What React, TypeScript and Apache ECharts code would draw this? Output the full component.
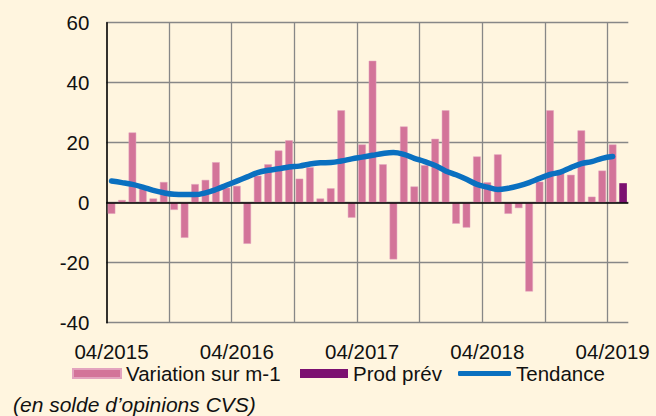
import React, { useEffect, useRef } from "react";
import * as echarts from "echarts";

const months: string[] = [
  "04/2015", "05/2015", "06/2015", "07/2015", "08/2015", "09/2015", "10/2015", "11/2015", "12/2015",
  "01/2016", "02/2016", "03/2016", "04/2016", "05/2016", "06/2016", "07/2016", "08/2016", "09/2016",
  "10/2016", "11/2016", "12/2016", "01/2017", "02/2017", "03/2017", "04/2017", "05/2017", "06/2017",
  "07/2017", "08/2017", "09/2017", "10/2017", "11/2017", "12/2017", "01/2018", "02/2018", "03/2018",
  "04/2018", "05/2018", "06/2018", "07/2018", "08/2018", "09/2018", "10/2018", "11/2018", "12/2018",
  "01/2019", "02/2019", "03/2019", "04/2019", "05/2019",
];

const variation: (number | string)[] = [
  -3.7, 0.9, 23.4, 4.8, 1.4, 6.9, -2.4, -11.7, 6.2, 7.6, 13.5, 5.0, 5.6, -13.7, 9.0, 12.8, 17.4,
  20.8, 8.0, 11.8, 1.4, 4.8, 30.8, -5.0, 19.4, 47.3, 12.8, -18.9, 25.4, 5.4, 12.5, 21.3, 30.8,
  -7.0, -8.3, 15.4, 6.8, 16.1, -3.7, -1.8, -29.6, 7.0, 30.8, 10.5, 9.3, 24.1, 2.0, 10.7, 19.4, "-",
];

const prodPrev: (number | string)[] = [
  "-", "-", "-", "-", "-", "-", "-", "-", "-", "-", "-", "-", "-", "-", "-", "-", "-",
  "-", "-", "-", "-", "-", "-", "-", "-", "-", "-", "-", "-", "-", "-", "-", "-",
  "-", "-", "-", "-", "-", "-", "-", "-", "-", "-", "-", "-", "-", "-", "-", "-", 6.5,
];

const tendance: (number | string)[] = [
  7.2, 6.7, 6.1, 5.2, 4.1, 3.3, 2.8, 2.7, 2.7, 3.3, 4.4, 5.8, 7.2, 8.6, 10.0, 10.8, 11.3,
  11.9, 12.2, 12.9, 13.3, 13.4, 13.9, 14.6, 15.2, 15.8, 16.4, 16.7, 16.1, 14.8, 13.7, 12.4, 10.6,
  9.3, 7.8, 6.1, 5.2, 4.4, 4.8, 5.6, 6.7, 8.1, 9.4, 10.2, 11.7, 13.0, 13.7, 14.8, 15.4, "-",
];

const yMin = -40;
const yMax = 60;
const yStep = 20;

const FONT = "'Liberation Sans', Arial, sans-serif";
const BG = "#FFF5DF";
const PINK = "#D37499";
const PURPLE = "#7C1070";
const BLUE = "#0A70C0";
const GRID = "#878787";

export default function App() {
  const ref = useRef<HTMLDivElement>(null);

  useEffect(() => {
    if (!ref.current) return;
    const chart = echarts.init(ref.current, null, { renderer: "svg" });
    const legendText = { fontFamily: FONT, fontSize: 20.5, color: "#111" };
    chart.setOption({
      animation: false,
      backgroundColor: BG,
      textStyle: { fontFamily: FONT },
      grid: { left: 106.3, right: 27.7, top: 22.7, bottom: 93.3, containLabel: false },
      legend: [
        {
          data: ["Variation sur m-1"],
          left: 72, top: 363, itemWidth: 48, itemHeight: 9, icon: "rect",
          textStyle: legendText, selectedMode: false, padding: 0,
        },
        {
          data: ["Prod prév"],
          left: 300, top: 363, itemWidth: 48, itemHeight: 9, icon: "rect",
          textStyle: legendText, selectedMode: false, padding: 0,
        },
        {
          data: ["Tendance"],
          left: 458, top: 363, itemWidth: 53, itemHeight: 5, icon: "roundRect",
          itemStyle: { color: BLUE },
          textStyle: legendText, selectedMode: false, padding: 0,
        },
      ],
      xAxis: {
        type: "category",
        data: months,
        boundaryGap: true,
        axisLine: { show: false },
        axisTick: { show: false },
        axisLabel: {
          interval: 11,
          margin: 18,
          fontFamily: FONT,
          fontSize: 20.5,
          color: "#111",
        },
        splitLine: {
          show: true,
          interval: 5,
          showMinLine: false,
          showMaxLine: false,
          lineStyle: { color: GRID, width: 1.3 },
        },
      },
      yAxis: {
        type: "value",
        min: yMin,
        max: yMax,
        interval: yStep,
        axisLine: { show: true, lineStyle: { color: "#000", width: 1.6 } },
        axisTick: { show: false },
        axisLabel: { margin: 17, fontFamily: FONT, fontSize: 20.5, color: "#111" },
        splitLine: { show: true, lineStyle: { color: GRID, width: 1.3 } },
      },
      series: [
        {
          name: "Variation sur m-1",
          type: "bar",
          data: variation,
          barWidth: 7.6,
          barGap: "-100%",
          itemStyle: { color: PINK, borderColor: "#E3A3BE", borderWidth: 0.5 },
          z: 2,
          markLine: {
            silent: true,
            symbol: ["none", "none"],
            label: { show: false },
            lineStyle: { color: "#000", width: 1.6, type: "solid" },
            data: [{ yAxis: 0 }],
            z: 3,
          },
        },
        {
          name: "Prod prév",
          type: "bar",
          data: prodPrev,
          barWidth: 7.6,
          barGap: "-100%",
          itemStyle: { color: PURPLE },
          z: 2,
        },
        {
          name: "Tendance",
          type: "line",
          data: tendance,
          smooth: 0.4,
          symbol: "none",
          lineStyle: { color: BLUE, width: 5.5, cap: "round" },
          itemStyle: { color: BLUE },
          z: 5,
        },
      ],
      graphic: [
        {
          type: "text",
          left: 13,
          top: 394,
          style: {
            text: "(en solde d\u2019opinions CVS)",
            font: `italic 21px ${FONT}`,
            fill: "#111",
          },
        },
      ],
    });
    return () => chart.dispose();
  }, []);

  return (
    <div
      ref={ref}
      style={{ position: "fixed", left: 0, top: 0, width: 656, height: 416, background: BG }}
    />
  );
}
